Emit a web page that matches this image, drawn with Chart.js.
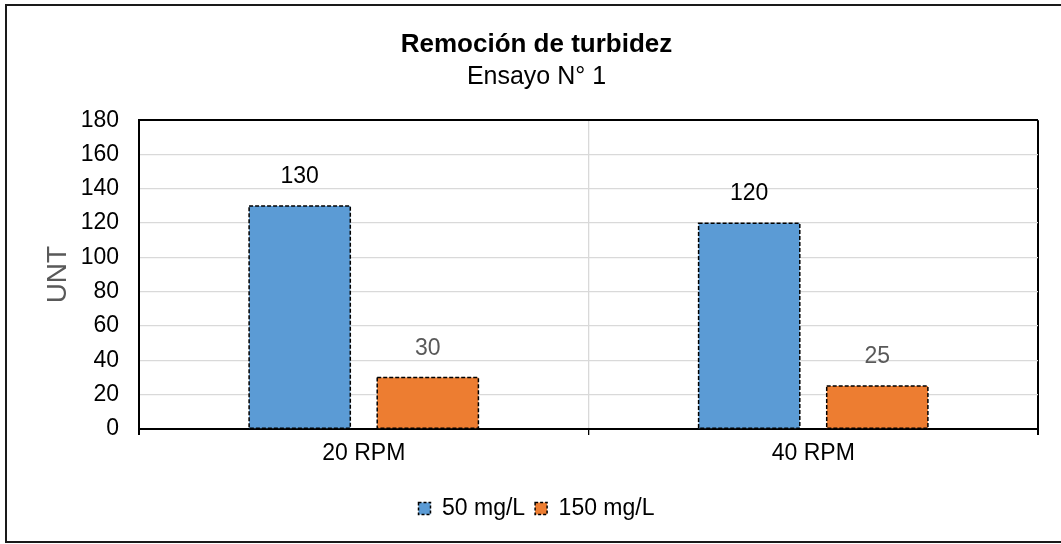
<!DOCTYPE html>
<html>
<head>
<meta charset="utf-8">
<script src="https://cdn.jsdelivr.net/npm/chart.js@4"></script>
<style>
  html, body { margin: 0; padding: 0; background: #fff; }
</style>
</head>
<body>
<canvas id="turbidez" width="1061" height="544"></canvas>
<script>
// datos del ensayo
const categories = ['20 RPM', '40 RPM'];
const seriesNames = ['50 mg/L', '150 mg/L'];
const dose50 = [130, 120];
const dose150 = [30, 25];
const yTickLabels = [0, 20, 40, 60, 80, 100, 120, 140, 160, 180];

const FONT = "'Liberation Sans', Arial, sans-serif";

// marco exterior (izquierda, arriba, abajo)
const framePlugin = {
  id: 'frame',
  beforeDraw(chart) {
    const ctx = chart.ctx;
    ctx.save();
    ctx.fillStyle = '#fff';
    ctx.fillRect(0, 0, chart.width, chart.height);
    ctx.strokeStyle = '#1a1a1a';
    ctx.lineWidth = 2;
    ctx.beginPath();
    ctx.moveTo(chart.width, 5);
    ctx.lineTo(6, 5);
    ctx.lineTo(6, 542);
    ctx.lineTo(chart.width, 542);
    ctx.stroke();
    ctx.restore();
  }
};

// borde punteado de las barras + etiquetas de datos
const barExtras = {
  id: 'barExtras',
  afterDatasetsDraw(chart) {
    const ctx = chart.ctx;
    chart.data.datasets.forEach((ds, i) => {
      const meta = chart.getDatasetMeta(i);
      meta.data.forEach((bar, j) => {
        const p = bar.getProps(['x', 'y', 'base', 'width'], true);
        ctx.save();
        ctx.setLineDash([4, 2]);
        ctx.lineWidth = 1.5;
        ctx.strokeStyle = '#000';
        ctx.strokeRect(p.x - p.width / 2, p.y, p.width, p.base - p.y);
        ctx.setLineDash([]);
        ctx.fillStyle = ds.labelColor;
        ctx.font = '23px ' + FONT;
        ctx.textAlign = 'center';
        ctx.textBaseline = 'middle';
        ctx.fillText(ds.data[j], p.x, p.y - 29);
        ctx.restore();
      });
    });
  }
};

new Chart(document.getElementById('turbidez'), {
  type: 'bar',
  data: {
    labels: categories,
    datasets: [
      { label: seriesNames[0], data: dose50, backgroundColor: '#5B9BD5', labelColor: '#000' },
      { label: seriesNames[1], data: dose150, backgroundColor: '#ED7D31', labelColor: '#595959' }
    ]
  },
  options: {
    responsive: false,
    animation: false,
    devicePixelRatio: 1,
    layout: { padding: { left: 12, right: 0, top: 0, bottom: 14 } },
    datasets: {
      bar: { categoryPercentage: 0.57, barPercentage: 0.79, borderWidth: 0 }
    },
    plugins: {
      title: {
        display: true,
        text: 'Remoción de turbidez',
        color: '#000',
        font: { family: FONT, size: 26, weight: 'bold' },
        padding: { top: 29, bottom: 0 }
      },
      subtitle: {
        display: true,
        text: 'Ensayo N° 1',
        color: '#000',
        font: { family: FONT, size: 25 },
        padding: { top: 2, bottom: 28 }
      },
      legend: {
        position: 'bottom',
        labels: {
          color: '#000',
          font: { family: FONT, size: 23 },
          boxWidth: 12,
          boxHeight: 12,
          padding: 10,
          generateLabels: chart => chart.data.datasets.map((ds, i) => ({
            text: ds.label,
            fillStyle: ds.backgroundColor,
            strokeStyle: '#000',
            lineWidth: 1.5,
            lineDash: [3, 2],
            hidden: false,
            datasetIndex: i,
            fontColor: '#000'
          }))
        }
      },
      tooltip: { enabled: false }
    },
    scales: {
      x: {
        offset: true,
        grid: {
          offset: true,
          color: c => c.index === 1 ? '#d9d9d9' : '#000',
          lineWidth: c => c.index === 1 ? 1.3 : 2,
          tickColor: '#000',
          tickLength: 6
        },
        border: { color: '#000', width: 2 },
        ticks: { color: '#000', font: { family: FONT, size: 23 }, padding: 5 },
        afterFit: s => { s.height = 58; }
      },
      y: {
        min: 0,
        max: 180,
        afterBuildTicks: s => { s.ticks = yTickLabels.map(v => ({ value: v })); },
        grid: {
          color: c => c.tick && c.tick.value === 180 ? '#000' : '#d9d9d9',
          lineWidth: c => c.tick && c.tick.value === 180 ? 2 : 1.3,
          drawTicks: false
        },
        border: { color: '#000', width: 2 },
        ticks: { color: '#000', font: { family: FONT, size: 23 }, padding: 20 },
        title: {
          display: true,
          text: 'UNT',
          color: '#595959',
          font: { family: FONT, size: 28 },
          padding: { top: 29, bottom: 0 }
        },
        afterFit: s => { s.width = 127; }
      },
      // eje vacío a la derecha: solo reserva el margen derecho
      yRight: {
        position: 'right',
        min: 0,
        max: 180,
        grid: { display: false, drawTicks: false },
        border: { display: false },
        ticks: { display: false },
        afterFit: s => { s.width = 23; }
      }
    }
  },
  plugins: [framePlugin, barExtras]
});
</script>
</body>
</html>
